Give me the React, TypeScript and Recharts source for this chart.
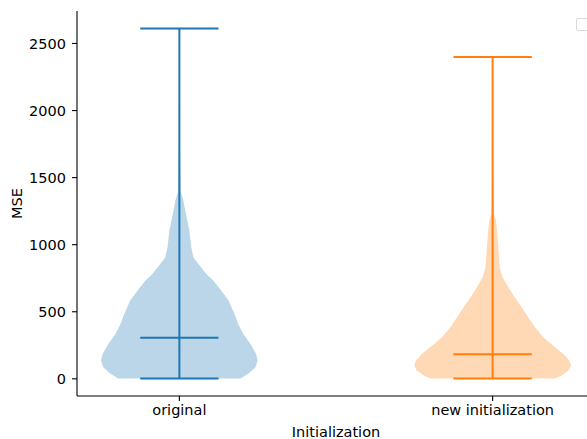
import { ComposedChart, Scatter, XAxis, YAxis, ReferenceLine, Legend } from 'recharts'

const categories = ['original', 'new initialization']
const positions = [1, 2]
const colors = ['#1f77b4', '#ff7f0e']

// summary stats per group
const mins = [3, 3]
const medians = [307, 183]
const maxes = [2612, 2400]

// density outline: MSE level and half width (in x units) of each violin
const originalLevels = [3, 37, 86, 136, 186, 260, 335, 409, 484, 583, 657, 731, 781, 856, 905, 979, 1104, 1228, 1326, 1400, 1700, 2100, 2612]
const originalWidths = [0.195, 0.22, 0.243, 0.25, 0.245, 0.227, 0.204, 0.188, 0.176, 0.157, 0.134, 0.109, 0.086, 0.061, 0.045, 0.038, 0.032, 0.021, 0.013, 0.004, 0.002, 0.001, 0.0005]

const newLevels = [3, 25, 62, 99, 136, 186, 235, 310, 384, 458, 533, 607, 682, 756, 830, 955, 1079, 1178, 1228, 1500, 1900, 2400]
const newWidths = [0.198, 0.22, 0.242, 0.25, 0.245, 0.226, 0.199, 0.162, 0.135, 0.114, 0.093, 0.071, 0.05, 0.032, 0.023, 0.019, 0.015, 0.011, 0.004, 0.002, 0.001, 0.0005]

const yTicks = [0, 500, 1000, 1500, 2000, 2500]
const capHalf = 0.125

function buildOutline(pos: number, levels: number[], widths: number[]) {
  const right = levels.map((y, i) => ({ x: pos + widths[i], y }))
  const left = levels.map((y, i) => ({ x: pos - widths[i], y })).reverse()
  return [...right, ...left]
}

const outlines = [
  buildOutline(positions[0], originalLevels, originalWidths),
  buildOutline(positions[1], newLevels, newWidths),
]

const font = '"DejaVu Sans", sans-serif'
const fontSize = 14.5
const tickStyle = { fontSize, fill: '#000', fontFamily: font }

export default function App() {
  return (
    <div style={{ position: 'absolute', left: 0, top: 0, width: 587, height: 439, overflow: 'hidden', background: '#fff' }}>
      <ComposedChart width={595} height={439} margin={{ top: 11, right: 0, bottom: 0, left: 0 }}>
        <XAxis
          type="number"
          dataKey="x"
          domain={[0.6732, 2.3268]}
          allowDataOverflow
          ticks={positions}
          tickFormatter={(v: number) => categories[positions.indexOf(v)] ?? ''}
          height={43}
          tickSize={5}
          tickMargin={4}
          tick={tickStyle}
          axisLine={{ stroke: '#000', strokeWidth: 1.1 }}
          tickLine={{ stroke: '#000', strokeWidth: 1.1 }}
          label={{ value: 'Initialization', position: 'insideBottom', offset: 2, fontSize, fill: '#000', fontFamily: font }}
        />
        <YAxis
          type="number"
          dataKey="y"
          domain={[-128, 2742]}
          allowDataOverflow
          ticks={yTicks}
          width={77}
          tickSize={5}
          tickMargin={6}
          tick={tickStyle}
          axisLine={{ stroke: '#000', strokeWidth: 1.1 }}
          tickLine={{ stroke: '#000', strokeWidth: 1.1 }}
          label={{
            value: 'MSE',
            angle: -90,
            position: 'insideLeft',
            offset: 17,
            fontSize,
            fill: '#000',
            fontFamily: font,
            style: { textAnchor: 'middle' },
          }}
        />
        <Legend
          layout="horizontal"
          verticalAlign="middle"
          align="center"
          wrapperStyle={{ left: 576, top: 18, width: 14, height: 14 }}
          content={() => (
            <div style={{ width: 12, height: 11, border: '1px solid #d9d9d9', borderRadius: 2 }} />
          )}
        />
        {outlines.map((pts, i) => (
          <Scatter
            key={categories[i]}
            name={categories[i]}
            data={pts}
            fill={colors[i]}
            legendType="none"
            line={{ fill: colors[i], fillOpacity: 0.3, stroke: 'none' }}
            lineType="joint"
            shape={() => <g />}
            isAnimationActive={false}
          />
        ))}
        {positions.map((p, i) => (
          <ReferenceLine
            key={`stem-${i}`}
            segment={[{ x: p, y: mins[i] }, { x: p, y: maxes[i] }]}
            stroke={colors[i]}
            strokeWidth={2}
          />
        ))}
        {positions.map((p, i) => (
          <ReferenceLine
            key={`max-${i}`}
            segment={[{ x: p - capHalf, y: maxes[i] }, { x: p + capHalf, y: maxes[i] }]}
            stroke={colors[i]}
            strokeWidth={2}
          />
        ))}
        {positions.map((p, i) => (
          <ReferenceLine
            key={`min-${i}`}
            segment={[{ x: p - capHalf, y: mins[i] }, { x: p + capHalf, y: mins[i] }]}
            stroke={colors[i]}
            strokeWidth={2}
          />
        ))}
        {positions.map((p, i) => (
          <ReferenceLine
            key={`med-${i}`}
            segment={[{ x: p - capHalf, y: medians[i] }, { x: p + capHalf, y: medians[i] }]}
            stroke={colors[i]}
            strokeWidth={2}
          />
        ))}
      </ComposedChart>
    </div>
  )
}
